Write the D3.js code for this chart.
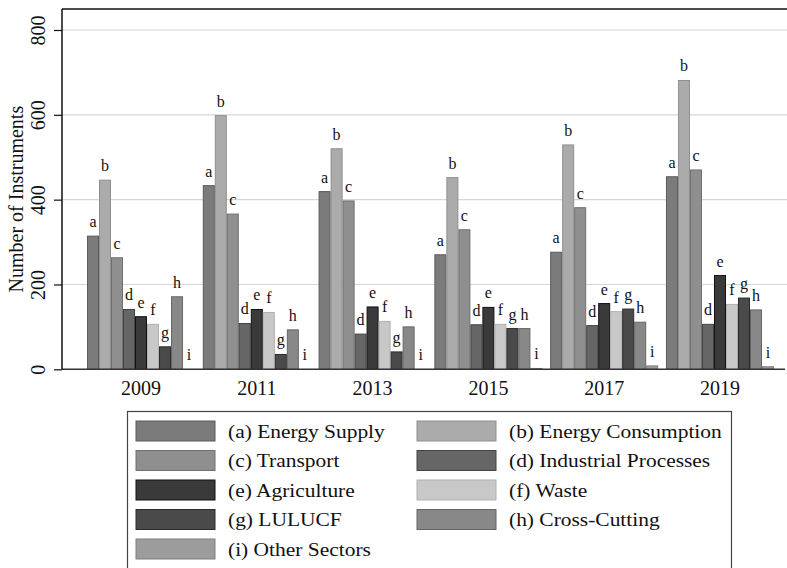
<!DOCTYPE html>
<html>
<head>
<meta charset="utf-8">
<script src="https://cdn.jsdelivr.net/npm/d3@7"></script>
<style>
  body { margin: 0; background: #fff; }
  svg { display: block; font-family: "Liberation Serif", "DejaVu Serif", serif; }
</style>
</head>
<body>
<div id="chart"></div>
<script>
// categories
const years = ['2009', '2011', '2013', '2015', '2017', '2019'];
const sectorKeys = ['a', 'b', 'c', 'd', 'e', 'f', 'g', 'h', 'i'];
const sectorNames = [
  'Energy Supply', 'Energy Consumption', 'Transport', 'Industrial Processes',
  'Agriculture', 'Waste', 'LULUCF', 'Cross-Cutting', 'Other Sectors'
];
// number of instruments per sector, one array per year (a..i)
const values2009 = [314, 446, 263, 141, 124, 106, 53, 171, 0];
const values2011 = [433, 598, 366, 108, 141, 134, 35, 93, 0];
const values2013 = [419, 520, 397, 83, 147, 113, 41, 100, 0];
const values2015 = [270, 452, 329, 105, 146, 106, 96, 96, 2];
const values2017 = [276, 529, 381, 103, 155, 136, 142, 111, 8];
const values2019 = [454, 681, 470, 106, 221, 153, 168, 140, 6];
const yTicks = [0, 200, 400, 600, 800];

const fills = ['#7b7b7b', '#ababab', '#8f8f8f', '#666666', '#3a3a3a', '#c8c8c8', '#4a4a4a', '#888888', '#9c9c9c'];
const strokes = ['#5a5a5a', '#8f8f8f', '#6f6f6f', '#444444', '#111111', '#b0b0b0', '#2a2a2a', '#666666', '#808080'];

const allValues = [values2009, values2011, values2013, values2015, values2017, values2019];
const data = years.map((yr, i) => ({ year: yr, values: allValues[i] }));

const width = 787, height = 568;
const marginLeft = 62, plotTop = 9, plotRight = 787;

const svg = d3.select('#chart').append('svg')
  .attr('width', width)
  .attr('height', height);

const x0 = d3.scaleBand(years, [87, 774]).paddingInner(0.067).paddingOuter(0);
const x1 = d3.scaleBand(sectorKeys, [0, x0.bandwidth()]).padding(0);
const y = d3.scaleLinear([0, 800], [369.3, 30]);
const color = d3.scaleOrdinal(sectorKeys, fills);
const strokeColor = d3.scaleOrdinal(sectorKeys, strokes);

// gridlines
svg.append('g')
  .selectAll('line')
  .data(yTicks.filter(d => d > 0))
  .join('line')
  .attr('x1', marginLeft).attr('x2', plotRight)
  .attr('y1', d => y(d)).attr('y2', d => y(d))
  .attr('stroke', '#d6d6d6')
  .attr('stroke-width', 1.2);

// top border
svg.append('line')
  .attr('x1', marginLeft).attr('x2', plotRight)
  .attr('y1', plotTop).attr('y2', plotTop)
  .attr('stroke', '#111').attr('stroke-width', 1.3);

// bars
const groups = svg.append('g')
  .selectAll('g')
  .data(data)
  .join('g')
  .attr('transform', d => `translate(${x0(d.year)},0)`);

groups.selectAll('rect')
  .data(d => d.values.map((v, i) => ({ key: sectorKeys[i], value: v })))
  .join('rect')
  .attr('x', d => x1(d.key) + 0.5)
  .attr('y', d => y(d.value))
  .attr('width', x1.bandwidth() - 1)
  .attr('height', d => y(0) - y(d.value))
  .attr('fill', d => color(d.key))
  .attr('stroke', d => d.value > 0 ? strokeColor(d.key) : 'none')
  .attr('stroke-width', 1);

groups.selectAll('text')
  .data(d => d.values.map((v, i) => ({ key: sectorKeys[i], value: v })))
  .join('text')
  .attr('x', d => x1(d.key) + x1.bandwidth() / 2)
  .attr('y', d => y(d.value) - 9)
  .attr('text-anchor', 'middle')
  .attr('font-size', 16)
  .attr('fill', '#111')
  .text(d => d.key);

// x axis (baseline + year labels)
const xAxis = d3.axisBottom(x0).tickSize(0).tickPadding(12);
svg.append('g')
  .attr('transform', `translate(0,${y(0)})`)
  .call(xAxis)
  .call(g => g.select('.domain').remove())
  .call(g => g.selectAll('text')
    .attr('font-size', 20)
    .attr('font-family', '"Liberation Serif", serif')
    .attr('fill', '#111'));

svg.append('line')
  .attr('x1', marginLeft).attr('x2', 785)
  .attr('y1', y(0)).attr('y2', y(0))
  .attr('stroke', '#333').attr('stroke-width', 1.5);

// y axis
const yAxis = d3.axisLeft(y).tickValues(yTicks).tickSize(8).tickSizeOuter(0);
const gY = svg.append('g')
  .attr('transform', `translate(${marginLeft},0)`)
  .call(yAxis);
gY.select('.domain')
  .attr('d', `M0,${plotTop}V${y(0)}`)
  .attr('stroke', '#111').attr('stroke-width', 1.5);
gY.selectAll('.tick line').attr('stroke', '#111').attr('stroke-width', 1.2);
gY.selectAll('.tick text')
  .attr('font-size', 20)
  .attr('font-family', '"Liberation Serif", serif')
  .attr('fill', '#111')
  .attr('text-anchor', 'middle')
  .attr('dy', 0)
  .attr('x', 0)
  .attr('y', 0)
  .attr('transform', 'translate(-17,0) rotate(-90)');

svg.append('text')
  .attr('transform', `translate(23,${(plotTop + y(0)) / 2 + 10}) rotate(-90)`)
  .attr('text-anchor', 'middle')
  .attr('font-size', 20)
  .attr('fill', '#111')
  .text('Number of Instruments');

// legend
const legend = svg.append('g');
legend.append('rect')
  .attr('x', 127.5).attr('y', 411.5)
  .attr('width', 604).attr('height', 170)
  .attr('fill', 'none')
  .attr('stroke', '#444').attr('stroke-width', 1.2);

const items = legend.selectAll('g')
  .data(sectorKeys.map((k, i) => ({ key: k, name: sectorNames[i], i })))
  .join('g')
  .attr('transform', d => `translate(${d.i % 2 === 0 ? 136 : 417},${421 + Math.floor(d.i / 2) * 29.5})`);

items.append('rect')
  .attr('width', 79).attr('height', 20)
  .attr('fill', d => color(d.key))
  .attr('stroke', d => strokeColor(d.key))
  .attr('stroke-width', 1);

items.append('text')
  .attr('transform', 'translate(92,16.5) scale(1.1,1)')
  .attr('font-size', 19.5)
  .attr('fill', '#111')
  .text(d => `(${d.key}) ${d.name}`);
</script>
</body>
</html>
